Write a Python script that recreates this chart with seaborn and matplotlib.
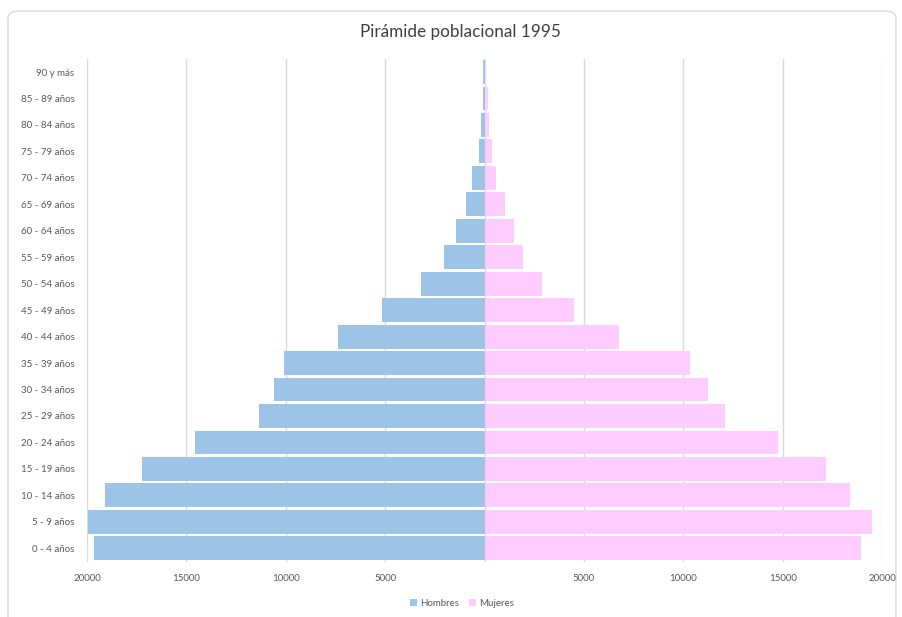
import matplotlib
matplotlib.use("Agg")
import matplotlib.pyplot as plt
from matplotlib.patches import FancyBboxPatch, Patch
import seaborn as sns
import pandas as pd

age_groups = ["90 y más", "85 - 89 años", "80 - 84 años", "75 - 79 años", "70 - 74 años",
              "65 - 69 años", "60 - 64 años", "55 - 59 años", "50 - 54 años", "45 - 49 años",
              "40 - 44 años", "35 - 39 años", "30 - 34 años", "25 - 29 años", "20 - 24 años",
              "15 - 19 años", "10 - 14 años", "5 - 9 años", "0 - 4 años"]
hombres = [60, 90, 170, 300, 620, 930, 1450, 2040, 3170, 5180, 7350, 10110, 10570, 11370,
           14560, 17250, 19100, 19930, 19650]
mujeres = [70, 170, 220, 390, 600, 1010, 1490, 1960, 2870, 4480, 6790, 10360, 11270, 12080,
           14790, 17160, 18410, 19520, 18920]
series_names = ["Hombres", "Mujeres"]
colors = ["#9DC3E6", "#FFCCFF"]
x_ticks = [-20000, -15000, -10000, -5000, 5000, 10000, 15000, 20000]
x_tick_labels = ["20000", "15000", "10000", "5000", "5000", "10000", "15000", "20000"]
title = "Pirámide poblacional 1995"

df = pd.DataFrame({
    "grupo": age_groups * 2,
    "sexo": [series_names[0]] * len(age_groups) + [series_names[1]] * len(age_groups),
    "valor": [-v for v in hombres] + mujeres,
})

sns.set_theme(style="white")
plt.rcParams["font.family"] = ["Lato", "DejaVu Sans"]

W, H = 902, 617
fig = plt.figure(figsize=(W / 100, H / 100), dpi=100)
fig.patch.set_facecolor("white")

card = FancyBboxPatch((8 / W, -20 / H), 888 / W, (H - 11 + 20) / H,
                      boxstyle="round,pad=0,rounding_size=0.012",
                      transform=fig.transFigure, facecolor="none",
                      edgecolor="#D9D9D9", linewidth=1.0, zorder=-1)
fig.patches.append(card)

left, right = 87 / W, 882 / W
top, bottom = 1 - 58.8 / H, 1 - 561.5 / H
ax = fig.add_axes([left, bottom, right - left, top - bottom])
ax.set_facecolor("none")

sns.barplot(data=df, x="valor", y="grupo", hue="sexo", order=age_groups,
            hue_order=series_names, palette=colors, dodge=False, orient="h",
            width=0.9, linewidth=0, saturation=1, legend=False, ax=ax, zorder=3)

ax.set_xlim(-20000, 20000)
ax.set_ylim(len(age_groups) - 0.5, -0.5)
for xv in [-20000, -15000, -10000, -5000, 0, 5000, 10000, 15000, 20000]:
    ax.axvline(xv, color="#D9D9D9", lw=1.0, zorder=1)
for s in ax.spines.values():
    s.set_visible(False)

ax.set_xticks(x_ticks)
ax.set_xticklabels(x_tick_labels)
ax.tick_params(axis="x", length=0, pad=9, labelsize=7, labelcolor="#595959")
ax.tick_params(axis="y", length=0, pad=9, labelsize=7, labelcolor="#595959")
ax.set_xlabel("")
ax.set_ylabel("")

fig.text(460 / W, 1 - 32 / H, title, ha="center", va="center",
         fontsize=12.3, color="#404040")

handles = [Patch(facecolor=c, edgecolor="none") for c in colors]
fig.legend(handles, series_names, loc="center", bbox_to_anchor=(462 / W, 1 - 603 / H),
           ncol=2, frameon=False, fontsize=7, handlelength=0.7, handleheight=0.7,
           handletextpad=0.3, columnspacing=1.0, labelcolor="#595959")

fig.savefig("out.png", dpi=100, facecolor="white")
